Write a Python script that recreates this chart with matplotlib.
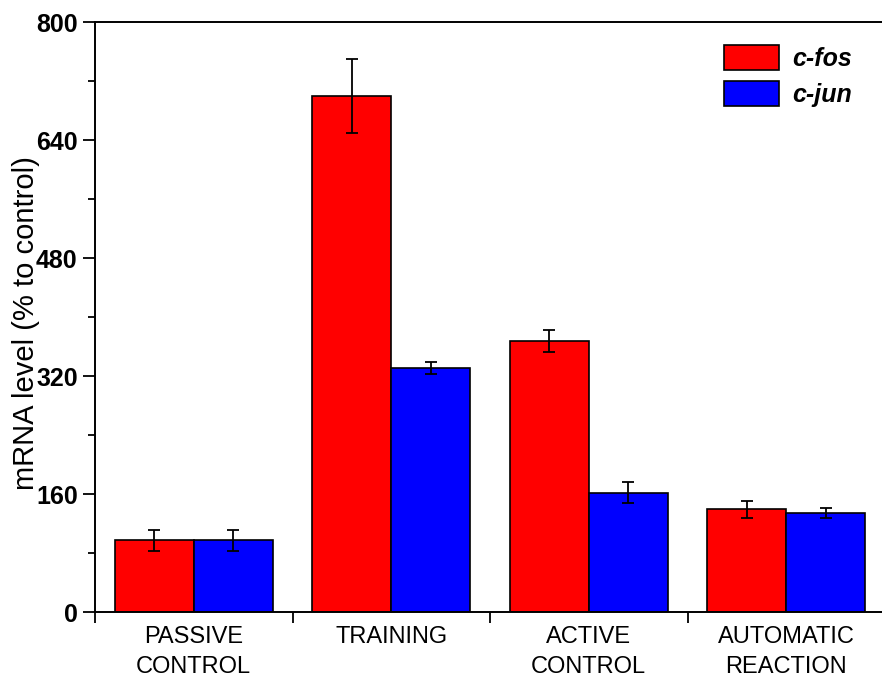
import matplotlib
matplotlib.use("Agg")
import matplotlib.pyplot as plt
import numpy as np
from matplotlib.ticker import MultipleLocator

groups = ["PASSIVE\nCONTROL", "TRAINING", "ACTIVE\nCONTROL", "AUTOMATIC\nREACTION"]
cfos = [97, 700, 368, 139]
cfos_err = [14, 50, 15, 12]
cjun = [97, 331, 162, 134]
cjun_err = [14, 8, 14, 7]

ARIAL = ["Liberation Sans", "DejaVu Sans"]

fig = plt.figure(figsize=(8.82, 6.79), dpi=100)
ax = fig.add_axes([95 / 882, 67 / 679, 790 / 882, 590 / 679])

x = np.arange(len(groups))
w = 0.4
ekw = dict(ecolor="black", elinewidth=1.3, capsize=4.3, capthick=1.3)
ax.bar(x - w / 2, cfos, w, yerr=cfos_err, color="#ff0000", edgecolor="black",
       linewidth=1.2, error_kw=ekw, label="c-fos")
ax.bar(x + w / 2, cjun, w, yerr=cjun_err, color="#0000ff", edgecolor="black",
       linewidth=1.2, error_kw=ekw, label="c-jun")

ax.set_xlim(-0.5, 3.5)
ax.set_ylim(0, 800)
ax.yaxis.set_major_locator(MultipleLocator(160))
ax.yaxis.set_minor_locator(MultipleLocator(80))
# group boundaries carry the ticks, names sit between them
ax.set_xticks(np.arange(-0.5, 3.6, 1.0))
ax.set_xticklabels([])
ax.set_xticks(x, minor=True)
ax.set_xticklabels(groups, minor=True, fontsize=17, family=ARIAL, linespacing=1.45)
ax.tick_params(axis="x", which="minor", length=0, pad=10)
ax.tick_params(axis="x", which="major", direction="out", length=8, width=1.3)
ax.tick_params(axis="y", which="major", direction="out", length=9, width=1.3)
ax.tick_params(axis="y", which="minor", direction="out", length=5, width=1.3)
for lab in ax.get_yticklabels():
    lab.set_family(ARIAL)
    lab.set_fontweight("bold")
    lab.set_fontsize(18)

for s in ax.spines.values():
    s.set_linewidth(1.4)
ax.spines["right"].set_visible(False)

ax.set_ylabel("mRNA level (% to control)", fontsize=21, family=ARIAL)
ax.yaxis.set_label_coords(-0.07, 0.49)

ax.legend(loc="upper right", frameon=False, bbox_to_anchor=(0.987, 1.0),
          prop=dict(family=ARIAL, weight="bold", style="italic", size=18),
          handlelength=2.2, handleheight=1.2, labelspacing=0.4,
          handletextpad=0.55)

fig.savefig("out.png", dpi=100)
